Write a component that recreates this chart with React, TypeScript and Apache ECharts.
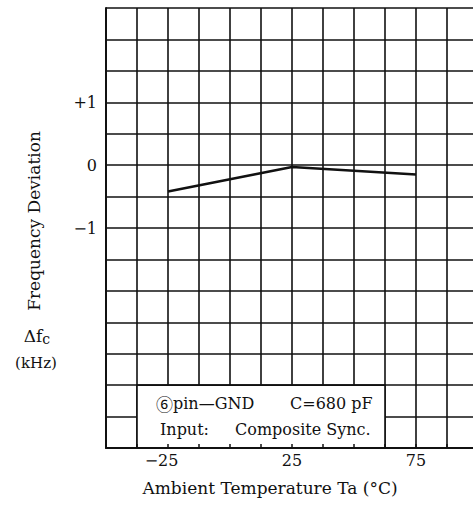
import React, { useEffect, useRef } from 'react';
import * as echarts from 'echarts';

// ---- data ----
const temperatures = [-25, 25, 75];
const deviations = [-0.42, -0.03, -0.15];
const xTickValues = [-25, 25, 75];
const xTickTexts = ['−25', '25', '75'];
const yTickValues = [1, 0, -1];
const yTickTexts = ['+1', '0', '−1'];
const noteBoxX = [-37.5, 62.5];
const noteBoxY = [-4.5, -3.5];
const noteLine1 = ['⑥', 'pin—GND', 'C=680 pF'];
const noteLine2 = ['Input:', 'Composite Sync.'];
const xTitle = 'Ambient Temperature Ta (°C)';
const yTitle = 'Frequency Deviation';
const yUnitSymbol = ['Δf', 'c'];
const yUnit = '(kHz)';

const FONT = '"DejaVu Serif", "Liberation Serif", serif';
const INK = '#111';

export default function App() {
  const ref = useRef<HTMLDivElement>(null);
  useEffect(() => {
    if (!ref.current) return;
    const chart = echarts.init(ref.current, undefined, { renderer: 'svg' });
    const axisBase = {
      type: 'value' as const,
      min: -50,
      max: 100,
      interval: 12.5,
    };
    chart.setOption({
      animation: false,
      backgroundColor: '#fff',
      grid: { left: 106, right: -5, top: 8, bottom: 58, outerBoundsMode: 'none', containLabel: false },
      xAxis: [
        {
          ...axisBase,
          z: 0,
          axisLine: { show: false },
          axisTick: { show: false },
          axisLabel: { show: false },
          splitLine: { show: true, lineStyle: { color: INK, width: 1.6 } },
        },
        {
          ...axisBase,
          position: 'bottom',
          z: 5,
          axisLine: { show: true, onZero: false, lineStyle: { color: INK, width: 2 } },
          axisTick: { show: true, inside: true, length: 4, lineStyle: { color: INK, width: 1.5 } },
          splitLine: { show: false },
          axisLabel: {
            margin: 4,
            color: INK,
            fontFamily: FONT,
            fontSize: 16,
            formatter: (v: number) => {
              const i = xTickValues.indexOf(v);
              if (i < 0) return '';
              return v < 0 ? `{m|${xTickTexts[i]}}` : xTickTexts[i];
            },
            rich: {
              m: { fontFamily: FONT, fontSize: 16, color: INK, padding: [0, 13, 0, 0] },
            },
          },
        },
      ],
      yAxis: {
        type: 'value',
        min: -4.5,
        max: 2.5,
        interval: 0.5,
        axisLine: { show: true, onZero: false, lineStyle: { color: INK, width: 2 } },
        axisTick: { show: false },
        splitLine: { show: true, lineStyle: { color: INK, width: 1.6 } },
        axisLabel: {
          margin: 9,
          color: INK,
          fontFamily: FONT,
          fontSize: 16,
          formatter: (v: number) => {
            const i = yTickValues.indexOf(v);
            return i < 0 ? '' : yTickTexts[i];
          },
        },
      },
      series: [
        {
          type: 'line',
          xAxisIndex: 0,
          yAxisIndex: 0,
          data: temperatures.map((t, i) => [t, deviations[i]]),
          symbol: 'none',
          lineStyle: { color: INK, width: 2.6 },
          z: 3,
          markArea: {
            silent: true,
            z: 2,
            itemStyle: { color: '#fff', borderColor: INK, borderWidth: 1.6 },
            label: { show: false },
            data: [[
              { xAxis: noteBoxX[0], yAxis: noteBoxY[0] },
              { xAxis: noteBoxX[1], yAxis: noteBoxY[1] },
            ]],
          },
        },
      ],
      graphic: [
        {
          type: 'text', x: 34, y: 221, rotation: Math.PI / 2, z: 10,
          style: { text: yTitle, fontFamily: FONT, fontSize: 17, fill: INK, align: 'center', verticalAlign: 'middle' },
        },
        {
          type: 'text', x: 270, y: 488, z: 10,
          style: { text: xTitle, fontFamily: FONT, fontSize: 17, fill: INK, align: 'center', verticalAlign: 'middle' },
        },
        {
          type: 'text', x: 37, y: 336, z: 10,
          style: {
            text: `{a|${yUnitSymbol[0]}}{b|${yUnitSymbol[1]}}`,
            align: 'center', verticalAlign: 'middle',
            rich: {
              a: { fontFamily: FONT, fontSize: 17, fill: INK },
              b: { fontFamily: FONT, fontSize: 14, fill: INK, padding: [5, 0, 0, 0] },
            },
          },
        },
        {
          type: 'text', x: 36, y: 363, z: 10,
          style: { text: yUnit, fontFamily: FONT, fontSize: 15, fill: INK, align: 'center', verticalAlign: 'middle' },
        },
        {
          type: 'text', x: 156, y: 403, z: 10,
          style: {
            text: `{c|${noteLine1[0]}}{t|${noteLine1[1]}}`,
            align: 'left', verticalAlign: 'middle',
            rich: {
              c: { fontFamily: '"Noto Sans CJK JP", sans-serif', fontSize: 17, fill: INK },
              t: { fontFamily: FONT, fontSize: 16, fill: INK },
            },
          },
        },
        {
          type: 'text', x: 290, y: 403, z: 10,
          style: { text: noteLine1[2], fontFamily: FONT, fontSize: 16, fill: INK, align: 'left', verticalAlign: 'middle' },
        },
        {
          type: 'text', x: 160, y: 429, z: 10,
          style: { text: noteLine2[0], fontFamily: FONT, fontSize: 16, fill: INK, align: 'left', verticalAlign: 'middle' },
        },
        {
          type: 'text', x: 235, y: 429, z: 10,
          style: { text: noteLine2[1], fontFamily: FONT, fontSize: 16, fill: INK, align: 'left', verticalAlign: 'middle' },
        },
      ],
    });
    return () => chart.dispose();
  }, []);
  return (
    <div
      ref={ref}
      style={{ position: 'absolute', left: 0, top: 0, width: 473, height: 506, background: '#fff' }}
    />
  );
}
